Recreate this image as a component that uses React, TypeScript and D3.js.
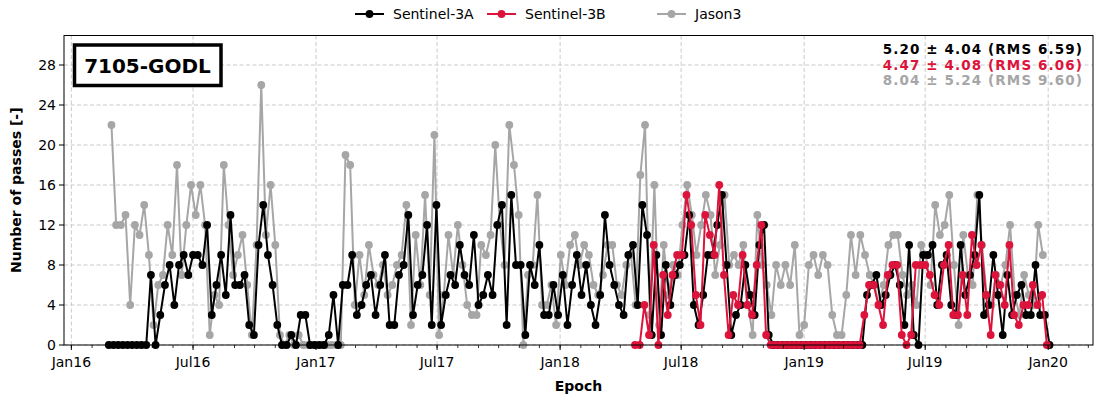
import React from "react";
import * as d3 from "d3";

// ---------- data ----------
const S3A_START = "2016-02-26";
const J3_START = "2016-03-01";
const S3B_START = "2018-04-23";

const s3aValues = [
  0, 0, 0, 0, 0, 0, 0, 0, 0,
  7, 0, 3, 6, 8, 4, 8, 9, 7, 9,
  9, 8, 12, 3, 6, 9, 5, 13, 6, 6,
  7, 2, 1, 10, 14, 9, 6, 2, 0, 0,
  1, 0, 3, 3, 0, 0, 0, 0, 1, 5,
  0, 6, 6, 9, 3, 4, 6, 7, 3, 6,
  9, 2, 2, 7, 8, 13, 3, 6, 7, 12,
  2, 14, 2, 5, 7, 6, 10, 7, 6, 11,
  4, 5, 7, 5, 12, 14, 2, 15, 8, 8,
  1, 8, 6, 10, 3, 3, 6, 3, 7, 2,
  6, 9, 5, 8, 4, 2, 5, 13, 8, 6,
  4, 3, 9, 10, 4, 14, 11, 1, 9, 1,
  8, 4, 7, 8, 9, 13, 4, 2, 5, 9,
  9, 12, 15, 8, 1, 3, 4, 8, 5, 3,
  10, 12, 1,
  0, 0, 0, 0, 0, 0, 0, 0, 0, 0,
  0, 0, 0, 0, 0, 0, 0, 0, 0, 0,
  5, 6, 7, 4, 5, 7, 8, 6, 2, 10,
  1, 0, 9, 9, 10, 4, 8, 9, 4, 3,
  10, 5, 7, 9, 15, 3, 4, 9, 5, 1,
  7, 3, 5, 6, 3, 3, 8, 3, 3, 0,
];

const s3bValues = [
  0, 0, 4, 1, 10, 0, 7, 3, 7, 9,
  9, 15, 12, 5, 2, 13, 11, 9, 16, 7,
  1, 5, 4, 9, 4, 3, 8, 12, 1, 0,
  0, 0, 0, 0, 0, 0, 0, 0, 0, 0,
  0, 0, 0, 0, 0, 0, 0, 0, 0,
  3, 6, 6, 4, 2, 7, 8, 8, 1, 0,
  1, 8, 8, 8, 7, 5, 4, 8, 10, 3,
  3, 7, 3, 11, 8, 10, 5, 1, 7, 6,
  4, 10, 3, 2, 4, 4, 6, 4, 5, 0,
];

const jason3Values = [
  22, 12, 12, 13, 4, 12, 11, 14, 9, 2,
  6, 7, 12, 9, 18, 7, 12, 16, 13, 16,
  12, 1, 5, 4, 18,
  12, 7, 9, 11, 6, 1, 10, 26, 11, 16,
  10, 1, 0, 1, 0, 1, 0, 0, 0, 0,
  0, 0, 0, 0, 0,
  19, 18, 4, 9, 5, 10, 7, 6, 8, 5,
  6, 8, 9, 14, 2, 11, 6, 15, 5, 21,
  1, 5, 11, 7, 12,
  8, 4, 3, 3, 10, 9, 11, 20, 12, 8,
  22, 18, 13, 0, 7, 8, 15, 4, 4, 6,
  2, 9, 6, 10, 11, 8, 10, 9,
  6, 5, 7, 10, 10, 6, 5, 8, 9, 4,
  17, 22, 3, 16, 2, 10, 5, 8, 7, 12,
  16, 13, 9, 12, 15, 13, 7, 10, 15, 8,
  9, 8, 10, 4, 1, 13, 8, 6, 3, 8,
  6, 8, 6, 10, 1, 2, 8, 9, 7, 9,
  8, 3, 1, 1, 5, 11, 7, 11, 9, 7,
  6, 4, 6, 10, 11, 11, 7, 5, 6, 4,
  10, 9, 6, 14, 11, 12, 15, 8, 2, 11,
  7, 6, 15, 10, 5, 4, 7, 6, 8, 12,
  5, 3, 7, 5, 4, 12, 9,
];

const seriesNames = ["Sentinel-3A", "Sentinel-3B", "Jason3"];
const seriesColors = ["#000000", "#dc143c", "#a6a6a6"];
const statsLabels = [
  "5.20 \u00b1 4.04 (RMS 6.59)",
  "4.47 \u00b1 4.08 (RMS 6.06)",
  "8.04 \u00b1 5.24 (RMS 9.60)",
];
const stationLabel = "7105-GODL";
const yTicks = [0, 4, 8, 12, 16, 20, 24, 28];
const xLabel = "Epoch";
const yLabel = "Number of passes [-]";

// ---------- layout ----------
const W = 1096;
const H = 396;
const M = { left: 64, right: 1093, top: 35.5, bottom: 345 };
const FONT = "'DejaVu Sans', 'Liberation Sans', sans-serif";

const parse = d3.timeParse("%Y-%m-%d");
const weekly = (start: string, vals: number[]) => {
  const s = parse(start) as Date;
  return vals.map((v, i) => ({ date: d3.timeDay.offset(s, 7 * i), value: v }));
};

export default function App() {
  const x = d3
    .scaleTime()
    .domain([new Date(2015, 11, 21), new Date(2020, 2, 8)])
    .range([M.left, M.right]);
  const y = d3.scaleLinear().domain([0, 30.95]).range([M.bottom, M.top]);

  const series = [
    { name: seriesNames[2], color: seriesColors[2], data: weekly(J3_START, jason3Values) },
    { name: seriesNames[0], color: seriesColors[0], data: weekly(S3A_START, s3aValues) },
    { name: seriesNames[1], color: seriesColors[1], data: weekly(S3B_START, s3bValues) },
  ];

  const line = d3
    .line<{ date: Date; value: number }>()
    .x((d) => x(d.date))
    .y((d) => y(d.value));

  const majorTicks = d3.timeMonth
    .range(new Date(2016, 0, 1), new Date(2020, 1, 1))
    .filter((d) => d.getMonth() % 6 === 0);
  const minorTicks = d3.timeMonth
    .range(new Date(2015, 11, 1), new Date(2020, 2, 9))
    .filter((d) => x(d) >= M.left && x(d) <= M.right);
  const fmt = d3.timeFormat("%b%y");

  const legendItems = [
    { name: seriesNames[0], color: seriesColors[0], x0: 355 },
    { name: seriesNames[1], color: seriesColors[1], x0: 487 },
    { name: seriesNames[2], color: seriesColors[2], x0: 657 },
  ];

  return (
    <svg
      width={W}
      height={H}
      style={{ position: "absolute", left: 0, top: 0, background: "#fff" }}
      fontFamily={FONT}
    >
      <rect x={0} y={0} width={W} height={H} fill="#fff" />
      {/* grid */}
      <g stroke="#c4c4c4" strokeWidth={0.9} strokeDasharray="4,2.5">
        {yTicks.map((t) => (
          <line key={"gy" + t} x1={M.left} x2={M.right} y1={y(t)} y2={y(t)} />
        ))}
        {majorTicks.map((d) => (
          <line key={"gx" + d.getTime()} x1={x(d)} x2={x(d)} y1={M.top} y2={M.bottom} />
        ))}
      </g>

      {/* series */}
      {series.map((s) => (
        <g key={s.name}>
          <path d={line(s.data) || ""} fill="none" stroke={s.color} strokeWidth={2} />
          {s.data.map((d, i) => (
            <circle key={i} cx={x(d.date)} cy={y(d.value)} r={3.9} fill={s.color} />
          ))}
        </g>
      ))}

      {/* frame */}
      <rect
        x={M.left}
        y={M.top}
        width={M.right - M.left}
        height={M.bottom - M.top}
        fill="none"
        stroke="#000"
        strokeWidth={1}
      />

      {/* y axis */}
      {yTicks.map((t) => (
        <g key={"yt" + t}>
          <line x1={M.left - 5} x2={M.left} y1={y(t)} y2={y(t)} stroke="#000" strokeWidth={1} />
          <text x={M.left - 8} y={y(t)} dy="0.36em" textAnchor="end" fontSize={14} fill="#000">
            {t}
          </text>
        </g>
      ))}

      {/* x axis */}
      {minorTicks.map((d) => (
        <line
          key={"mt" + d.getTime()}
          x1={x(d)}
          x2={x(d)}
          y1={M.bottom}
          y2={M.bottom + 3}
          stroke="#000"
          strokeWidth={0.8}
        />
      ))}
      {majorTicks.map((d) => (
        <g key={"xt" + d.getTime()}>
          <line x1={x(d)} x2={x(d)} y1={M.bottom} y2={M.bottom + 5} stroke="#000" strokeWidth={1} />
          <text x={x(d)} y={M.bottom + 22} textAnchor="middle" fontSize={14} fill="#000">
            {fmt(d)}
          </text>
        </g>
      ))}

      {/* axis labels */}
      <text x={(M.left + M.right) / 2} y={391} textAnchor="middle" fontSize={14} fontWeight="bold">
        {xLabel}
      </text>
      <text
        transform={`translate(21,${(M.top + M.bottom) / 2}) rotate(-90)`}
        textAnchor="middle"
        fontSize={14}
        fontWeight="bold"
      >
        {yLabel}
      </text>

      {/* station box */}
      <rect x={74.5} y={45} width={146.5} height={40.5} fill="#fff" stroke="#000" strokeWidth={3.5} />
      <text x={147.5} y={73} textAnchor="middle" fontSize={20} fontWeight="bold">
        {stationLabel}
      </text>

      {/* stats */}
      {statsLabels.map((s, i) => (
        <text
          key={s}
          x={1083}
          y={54 + i * 15.6}
          textAnchor="end"
          fontSize={13.5}
          letterSpacing={1.1}
          fontWeight="bold"
          fill={seriesColors[i]}
        >
          {s}
        </text>
      ))}

      {/* legend */}
      {legendItems.map((it) => (
        <g key={it.name}>
          <line x1={it.x0} x2={it.x0 + 29} y1={14} y2={14} stroke={it.color} strokeWidth={2} />
          <circle cx={it.x0 + 14.5} cy={14} r={3.9} fill={it.color} />
          <text x={it.x0 + 38} y={14} dy="0.36em" fontSize={14} fill="#000">
            {it.name}
          </text>
        </g>
      ))}
    </svg>
  );
}
